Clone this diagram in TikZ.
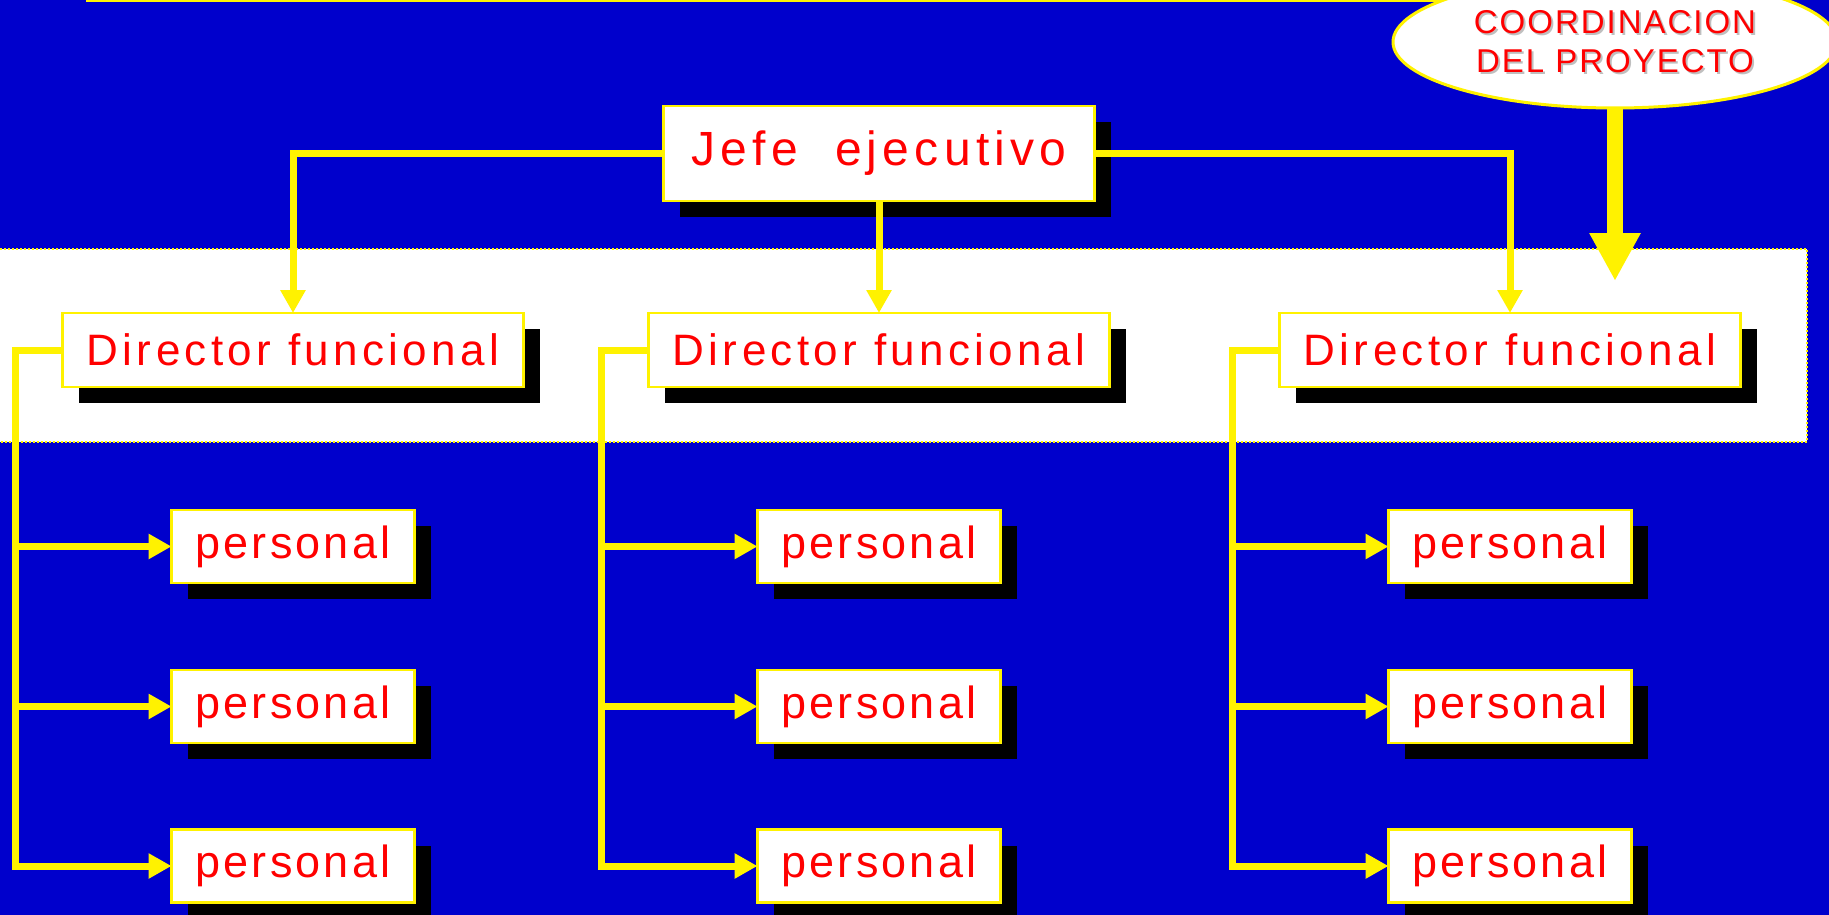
\documentclass[tikz,border=0pt]{standalone}
\usepackage{fontspec}
\setmainfont{Liberation Sans}
\newfontfamily\rotjefe[LetterSpace=11]{Liberation Sans}
\newfontfamily\rotdir[LetterSpace=10]{Liberation Sans}
\newfontfamily\rotpers[LetterSpace=7]{Liberation Sans}
\newfontfamily\rotcoord[LetterSpace=6]{Liberation Sans}
\usepackage{tikz}
\usetikzlibrary{arrows.meta,shapes.geometric,shadows}
\definecolor{fondo}{RGB}{0,0,204}

\begin{document}
\begin{tikzpicture}[x=1pt, y=-1pt,
    caja/.style={draw=yellow, line width=2.5pt, fill=white, text=red, inner sep=0pt, outer sep=0pt,
        general shadow={fill=black, shadow xshift=16pt, shadow yshift=-16pt}},
    jefebox/.style={caja, minimum width=431pt, minimum height=95pt, font={\rotjefe\fontsize{48}{54}\selectfont}},
    dirbox/.style={caja, minimum width=461pt, minimum height=74pt, font={\rotdir\fontsize{44}{50}\selectfont}},
    persbox/.style={caja, minimum width=243pt, minimum height=73pt, font={\rotpers\fontsize{45}{50}\selectfont}},
    enlace/.style={draw=yellow, line width=7pt, -{Triangle[length=23pt, width=24pt]}},
    coordtext/.style={align=center, font={\rotcoord\fontsize{33}{39}\selectfont}}]
    \def\dx{47.5} % bracket offset left of the directors

    % background and band
    \fill[fondo] (0,0) rectangle (1829,915);
    \useasboundingbox (0,0) rectangle (1829,915);
    \draw[draw=yellow, fill=white, line width=2pt, dash pattern=on 2pt off 2pt] (-10,249) rectangle (1807,442);

    % boxes
    \node[jefebox] (jefe) at (879,153.5) {Jefe\ \ ejecutivo};
    \foreach \cx [count=\i] in {293,879,1510} {
        \node[dirbox] (dir\i) at (\cx,350) {Director funcional};
        \foreach \cy [count=\j] in {546.5,706.5,866} \node[persbox] (pers\i\j) at (\cx,\cy) {personal};
    }

    % connectors
    \draw[enlace] (jefe.west) -| (dir1.north);
    \draw[enlace] (jefe.south) -- (dir2.north);
    \draw[enlace] (jefe.east) -| (dir3.north);
    \foreach \i in {1,2,3} {
        \coordinate (esq\i) at ([xshift=-\dx pt]dir\i.west);
        \draw[enlace] (dir\i.west) -- (esq\i) |- (pers\i3.west);
        \foreach \j in {1,2} \draw[enlace] (esq\i |- pers\i\j.west) -- (pers\i\j.west);
    }

    % coordination ellipse
    \coordinate (lin) at (86,1);
    \draw[yellow, line width=2pt] (lin) -- (1615,1);
    \node[ellipse, draw=yellow, line width=3pt, fill=white, minimum width=444pt, minimum height=132pt, inner sep=0pt] (coord) at (1615,42) {};
    \node[coordtext, text=black!25] at ([shift={(2,2)}]coord) {COORDINACION\\DEL PROYECTO};
    \node[coordtext, text=red] (coordlbl) at (coord) {COORDINACION\\DEL PROYECTO};
    \coordinate (punta) at (1615,281);
    \draw[draw=yellow, line width=16pt, -{Triangle[length=48pt, width=48pt]}] (coord.south) -- (punta);
\end{tikzpicture}
\end{document}
